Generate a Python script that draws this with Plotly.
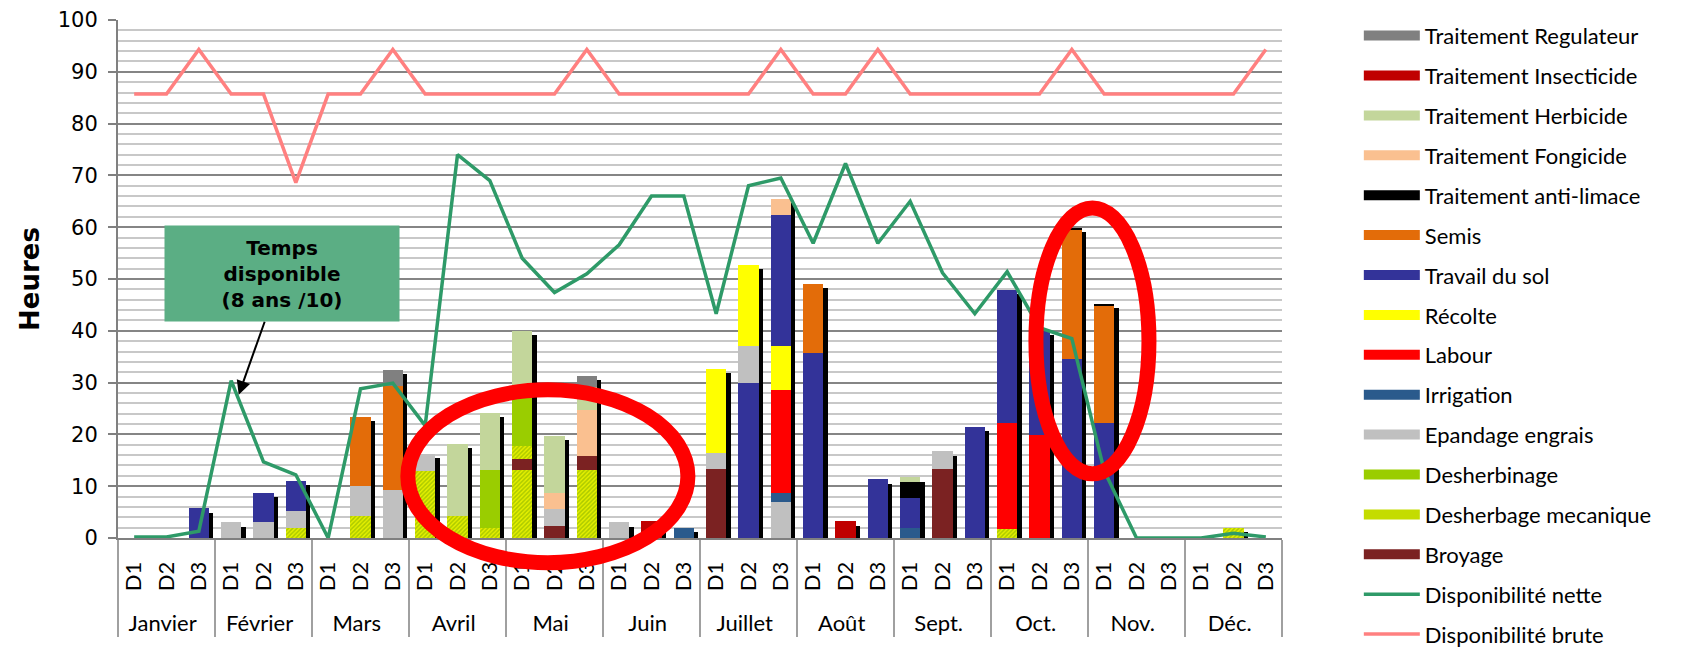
import numpy as np
import plotly.graph_objects as go


# ═══════════════════════════════════════════════════════════════
# Données (heures par décade)
# ═══════════════════════════════════════════════════════════════

mois = ["Janvier", "Février", "Mars", "Avril", "Mai", "Juin",
        "Juillet", "Août", "Sept.", "Oct.", "Nov.", "Déc."]
# espaces insécables devant : décale les mois vers le bas comme dans Excel
decades = ["\u00a0\u00a0D1", "\u00a0\u00a0D2", "\u00a0\u00a0D3"]

#                 Jan          Fév            Mars             Avril             Mai                Juin         Juillet           Août             Sept            Oct                 Nov            Déc
travail_bas =    [0, 0, 0,     0, 0, 0,       0, 0, 0,         0, 0, 0,          0, 0, 0,           0, 0, 0,     0, 30.0, 0,       0, 0, 0,         0, 0, 0,        0, 0, 0,            0, 0, 0,       0, 0, 0]
desherbage_mec = [0, 0, 0,     0, 0, 1.9,     0, 4.2, 0,       12.9, 4.2, 1.9,   13.2, 0, 13.2,     0, 0, 0,     0, 0, 0,          0, 0, 0,         0, 0, 0,        1.7, 0, 0,          0, 0, 0,       0, 1.9, 0]
broyage =        [0, 0, 0,     0, 0, 0,       0, 0, 0,         0, 0, 0,          2.1, 2.25, 2.7,    0, 0, 0,     13.3, 0, 0,       0, 0, 0,         0, 13.3, 0,     0, 0, 0,            0, 0, 0,       0, 0, 0]
desherbage_haut = [0, 0, 0,    0, 0, 0,       0, 0, 0,         0, 0, 0,          2.4, 0, 0,         0, 0, 0,     0, 0, 0,          0, 0, 0,         0, 0, 0,        0, 0, 0,            0, 0, 0,       0, 0, 0]
desherbinage =   [0, 0, 0,     0, 0, 0,       0, 0, 0,         0, 0, 11.3,       9.3, 0, 0,         0, 0, 0,     0, 0, 0,          0, 0, 0,         0, 0, 0,        0, 0, 0,            0, 0, 0,       0, 0, 0]
epandage =       [0, 0, 0,     3.0, 3.0, 3.4, 0, 5.9, 9.35,    3.4, 0, 0,        0, 3.4, 0,         3.0, 0, 0,   3.2, 7.0, 6.9,    0, 0, 0,         0, 3.4, 0,      0, 0, 0,            0, 0, 0,       0, 0, 0]
irrigation =     [0, 0, 0,     0, 0, 0,       0, 0, 0,         0, 0, 0,          0, 0, 0,           0, 0, 2.0,   0, 0, 1.8,        0, 0, 0,         1.9, 0, 0,      0, 0, 0,            0, 0, 0,       0, 0, 0]
labour =         [0, 0, 0,     0, 0, 0,       0, 0, 0,         0, 0, 0,          0, 0, 0,           0, 0, 0,     0, 0, 19.9,       0, 0, 0,         0, 0, 0,        20.5, 19.95, 0,     0, 0, 0,       0, 0, 0]
recolte =        [0, 0, 0,     0, 0, 0,       0, 0, 0,         0, 0, 0,          0, 0, 0,           0, 0, 0,     16.2, 15.8, 8.4,  0, 0, 0,         0, 0, 0,        0, 0, 0,            0, 0, 0,       0, 0, 0]
travail_sol =    [0, 0, 5.7,   0, 5.75, 5.8,  0, 0, 0,         0, 0, 0,          0, 0, 0,           0, 0, 0,     0, 0, 25.4,       35.8, 0, 11.3,   5.8, 0, 21.5,   25.7, 19.95, 34.6,  22.2, 0, 0,    0, 0, 0]
semis =          [0, 0, 0,     0, 0, 0,       0, 13.3, 20.05,  0, 0, 0,          0, 0, 0,           0, 0, 0,     0, 0, 0,          13.3, 0, 0,      0, 0, 0,        0, 0, 24.9,         22.65, 0, 0,   0, 0, 0]
anti_limace =    [0, 0, 0,     0, 0, 0,       0, 0, 0,         0, 0, 0,          0, 0, 0,           0, 0, 0,     0, 0, 0,          0, 0, 0,         3.2, 0, 0,      0, 0, 0.35,         0.35, 0, 0,    0, 0, 0]
fongicide =      [0, 0, 0,     0, 0, 0,       0, 0, 0,         0, 0, 0,          0, 3.05, 8.9,      0, 0, 0,     0, 0, 3.1,        0, 0, 0,         0, 0, 0,        0, 0, 0,            0, 0, 0,       0, 0, 0]
herbicide =      [0, 0, 0,     0, 0, 0,       0, 0, 0,         0, 14.0, 10.9,    13.0, 11.05, 4.4,  0, 0, 0,     0, 0, 0,          0, 0, 0,         0.8, 0, 0,      0, 0, 0,            0, 0, 0,       0, 0, 0]
insecticide =    [0, 0, 0,     0, 0, 0,       0, 0, 0,         0, 0, 0,          0, 0, 0,           0, 3.2, 0,   0, 0, 0,          0, 3.2, 0,       0, 0, 0,        0, 0, 0,            0, 0, 0,       0, 0, 0]
regulateur =     [0, 0, 0,     0, 0, 0,       0, 0, 3.1,       0, 0, 0,          0, 0, 2.1,         0, 0, 0,     0, 0, 0,          0, 0, 0,         0, 0, 0,        0, 0, 0,            0, 0, 0,       0, 0, 0]

dispo_nette = [0.2, 0.2, 1.3,   30.4, 14.7, 12.2,  0, 28.8, 29.9,   21.7, 74.0, 69.0,  54.0, 47.4, 51.0,
               56.6, 66.0, 66.0,  43.3, 68.0, 69.5,  56.9, 72.3, 56.9,  65.0, 51.2, 43.3,  51.4, 40.6, 38.5,
               13.0, 0, 0,  0, 0.9, 0.2]
dispo_brute = [85.7, 85.7, 94.3,  85.7, 85.7, 68.6,  85.7, 85.7, 94.3,  85.7, 85.7, 85.7,  85.7, 85.7, 94.3,
               85.7, 85.7, 85.7,  85.7, 85.7, 94.3,  85.7, 85.7, 94.3,  85.7, 85.7, 85.7,  85.7, 85.7, 94.3,
               85.7, 85.7, 85.7,  85.7, 85.7, 94.3]

x = [[m for m in mois for _ in decades], decades * len(mois)]

HACHURE = "hachure"

# (nom, valeurs, couleur, rang légende, affiché)
series = [
    ("Travail du sol", travail_bas, "#333399", 7, False),
    ("Desherbage mecanique", desherbage_mec, HACHURE, 13, True),
    ("Broyage", broyage, "#7B2222", 14, True),
    ("Desherbage mecanique", desherbage_haut, HACHURE, 13, False),
    ("Desherbinage", desherbinage, "#9ACD00", 12, True),
    ("Epandage engrais", epandage, "#C0C0C0", 11, True),
    ("Irrigation", irrigation, "#2A5A8C", 10, True),
    ("Labour", labour, "#FF0000", 9, True),
    ("Récolte", recolte, "#FFFF00", 8, True),
    ("Travail du sol", travail_sol, "#333399", 7, True),
    ("Semis", semis, "#E36C09", 6, True),
    ("Traitement anti-limace", anti_limace, "#000000", 5, True),
    ("Traitement Fongicide", fongicide, "#FAC090", 4, True),
    ("Traitement Herbicide", herbicide, "#C3D69B", 3, True),
    ("Traitement Insecticide", insecticide, "#C00000", 2, True),
    ("Traitement Regulateur", regulateur, "#808080", 1, True),
]

total = np.sum([s[1] for s in series], axis=0)

fig = go.Figure()

# ombre noire décalée derrière chaque barre
fig.add_trace(go.Bar(
    x=x, y=total, base=-0.8, offset=-0.17, width=0.62,
    marker=dict(color="black", line=dict(width=0)),
    showlegend=False, hoverinfo="skip"
))

for i, (nom, valeurs, couleur, rang, visible) in enumerate(series):
    if couleur == HACHURE:
        marker = dict(color="#E6F000", line=dict(width=0),
                      pattern=dict(shape="/", bgcolor="#E6F000", fgcolor="#72A400",
                                   size=3, solidity=0.5))
    else:
        marker = dict(color=couleur, line=dict(width=0))
    fig.add_trace(go.Bar(
        x=x, y=valeurs, name=nom, marker=marker,
        legendgroup=nom, showlegend=False
    ))
    # entrée de légende : rectangle large comme dans Excel
    if visible:
        fig.add_trace(go.Scatter(
            x=x, y=[None] * len(valeurs), mode="lines", name=nom,
            line=dict(color="#C4DC00" if couleur == HACHURE else couleur, width=14),
            legendrank=rang, legendgroup=nom, hoverinfo="skip"
        ))

fig.add_trace(go.Scatter(x=x, y=dispo_nette, mode="lines", name="Disponibilité nette",
                         line=dict(color="#2E9A68", width=3.5), legendrank=15, legendgroup="nette"))
fig.add_trace(go.Scatter(x=x, y=dispo_brute, mode="lines", name="Disponibilité brute",
                         line=dict(color="#FF8080", width=3.5), legendrank=16, legendgroup="brute"))

# ═══════════════════════════════════════════════════════════════
# Mise en forme
# (la page ajoute une marge de 8 px : la figure fait 8 px de moins)
# ═══════════════════════════════════════════════════════════════

fig.update_layout(
    width=1693, height=647,
    margin=dict(l=110, r=419, t=12, b=117, autoexpand=False),
    plot_bgcolor="white", paper_bgcolor="white",
    barmode="stack", bargap=0.38,
    legend=dict(
        x=1.066, y=1.01, xanchor="left", yanchor="top",
        font=dict(family="Lato", size=22, color="black"),
        traceorder="grouped", tracegroupgap=8.3, itemwidth=56,
        maxheight=700,
    ),
    xaxis=dict(
        type="multicategory", tickangle=-90,
        tickfont=dict(family="Lato", size=22, color="black"),
        ticklabelstandoff=13,
        showline=True, linecolor="#808080", linewidth=2,
        showdividers=True, dividercolor="#A0A0A0", dividerwidth=2,
        ticks="", showgrid=False,
    ),
    yaxis=dict(
        range=[0, 100], dtick=10,
        tickfont=dict(family="DejaVu Sans", size=21, color="black"),
        ticks="outside", ticklen=8, tickcolor="#808080", tickwidth=2, ticklabelstandoff=6,
        showline=True, linecolor="#808080", linewidth=2,
        showgrid=True, gridcolor="#858585", gridwidth=2, zeroline=False,
        minor=dict(dtick=2, showgrid=True, gridcolor="#C8C8C8", gridwidth=2),
        title=dict(text="Heures", standoff=11,
                   font=dict(family="DejaVu Sans", size=26, color="black", weight="bold")),
    ),
)

# cartouche « Temps disponible »
fig.add_annotation(
    xref="paper", yref="paper", x=0.1037, y=0.2765,
    ax=43, ay=-121,
    text="Temps<br>disponible<br>(8 ans /10)",
    font=dict(family="DejaVu Sans", size=20, color="black", weight="bold"),
    bgcolor="#5BAE84", width=232, height=93,
    showarrow=True, arrowhead=2, arrowsize=1.4, arrowwidth=2, arrowcolor="black",
)

# ellipses rouges
for x0, x1, y0, y1 in [(0.249, 0.4896, -0.0477, 0.286), (0.7886, 0.8857, 0.124, 0.637)]:
    fig.add_shape(type="circle", xref="paper", yref="paper", x0=x0, x1=x1, y0=y0, y1=y1,
                  line=dict(color="#FF0000", width=15), layer="above")

fig.write_html("out.html")
